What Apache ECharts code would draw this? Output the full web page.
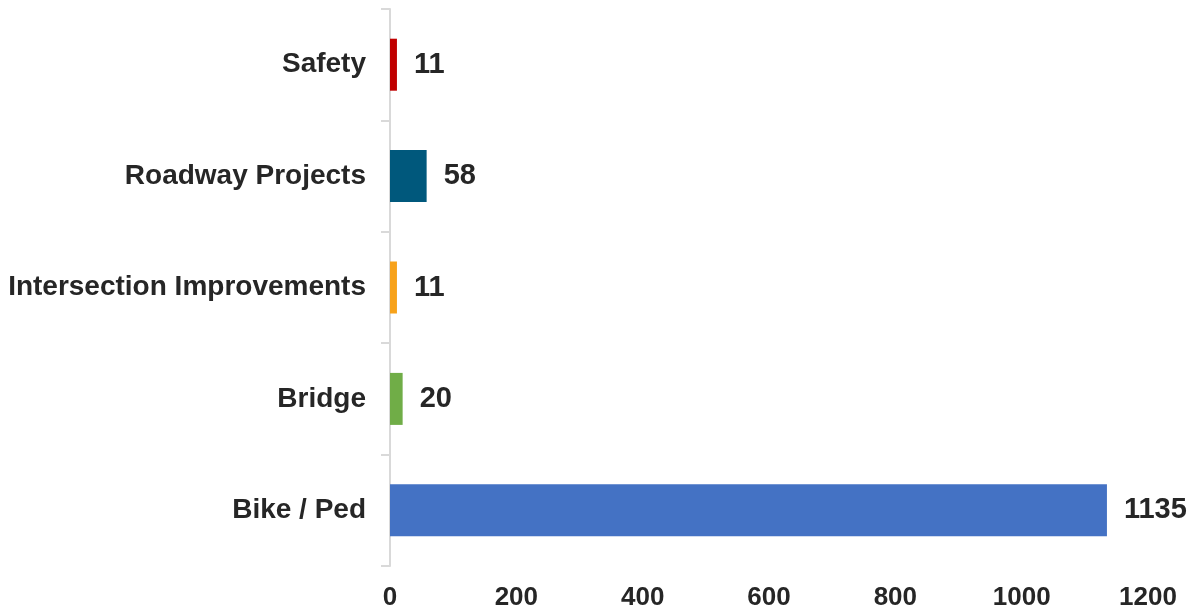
<!DOCTYPE html>
<html>
<head>
<meta charset="utf-8">
<script src="https://cdn.jsdelivr.net/npm/echarts@6/dist/echarts.min.js"></script>
<style>
  html, body { margin: 0; padding: 0; background: #ffffff; }
  #chart { width: 1191px; height: 611px; }
</style>
</head>
<body>
<div id="chart"></div>
<script>
// Project counts by category (listed bottom to top)
const categories = ['Bike / Ped', 'Bridge', 'Intersection Improvements', 'Roadway Projects', 'Safety'];
const counts = [1135, 20, 11, 58, 11];
const xTicks = { min: 0, max: 1200, interval: 200 };

// One colour per category, same order as above
const barColors = ['#4472c4', '#70ad47', '#f7a21b', '#00587c', '#c00000'];

const textColor = '#262626';
const fontFamily = 'Arial, "Liberation Sans", sans-serif';

const chart = echarts.init(document.getElementById('chart'), null, { renderer: 'canvas' });

chart.setOption({
  animation: false,
  backgroundColor: '#ffffff',
  grid: { left: 390, right: 43, top: 9, bottom: 44, containLabel: false },
  xAxis: {
    type: 'value',
    min: xTicks.min,
    max: xTicks.max,
    interval: xTicks.interval,
    axisLine: { show: false },
    axisTick: { show: false },
    splitLine: { show: false },
    axisLabel: {
      color: textColor,
      fontFamily: fontFamily,
      fontWeight: 'bold',
      fontSize: 26,
      margin: 19,
      formatter: (v) => String(v)
    }
  },
  yAxis: {
    type: 'category',
    data: categories,
    axisLine: { show: true, lineStyle: { color: '#d9d9d9', width: 2 } },
    axisTick: { show: true, length: 9, lineStyle: { color: '#d9d9d9', width: 2 } },
    axisLabel: {
      color: textColor,
      fontFamily: fontFamily,
      fontWeight: 'bold',
      fontSize: 28,
      margin: 24,
      padding: [3, 0, 0, 0]
    },
    splitLine: { show: false }
  },
  series: [{
    type: 'bar',
    barWidth: 52,
    data: counts.map((v, i) => ({ value: v, itemStyle: { color: barColors[i] } })),
    label: {
      show: true,
      position: 'right',
      distance: 17,
      color: textColor,
      fontFamily: fontFamily,
      fontWeight: 'bold',
      fontSize: 29,
      padding: [3, 0, 0, 0]
    }
  }]
});
</script>
</body>
</html>
